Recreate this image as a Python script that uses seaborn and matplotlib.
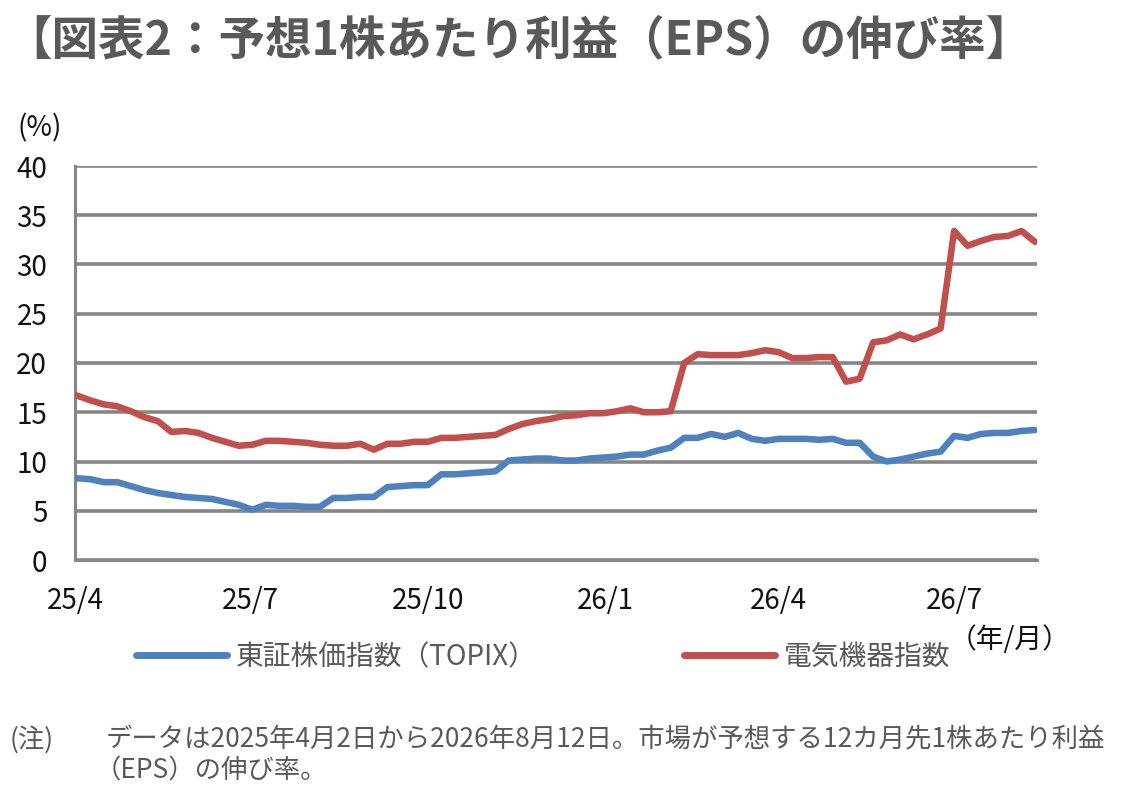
import numpy as np
import pandas as pd
import matplotlib
matplotlib.use("Agg")
import matplotlib.pyplot as plt
import seaborn as sns

# ---- data (weekly, 2025-04-02 .. 2026-08-12) ----
start_date = "2025-04-02"
n_weeks = 72
topix = [8.3, 8.2, 7.9, 7.9, 7.5, 7.1, 6.8, 6.6, 6.4, 6.3,
         6.2, 5.9, 5.6, 5.1, 5.6, 5.5, 5.5, 5.4, 5.4, 6.3,
         6.3, 6.4, 6.4, 7.4, 7.5, 7.6, 7.6, 8.7, 8.7, 8.8,
         8.9, 9.0, 10.1, 10.2, 10.3, 10.3, 10.1, 10.1, 10.3, 10.4,
         10.5, 10.7, 10.7, 11.1, 11.4, 12.4, 12.4, 12.8, 12.5, 12.9,
         12.3, 12.1, 12.3, 12.3, 12.3, 12.2, 12.3, 11.9, 11.9, 10.5,
         10.0, 10.2, 10.5, 10.8, 11.0, 12.6, 12.4, 12.8, 12.9, 12.9,
         13.1, 13.2]
electric = [16.7, 16.2, 15.8, 15.6, 15.1, 14.5, 14.1, 13.0, 13.1, 12.9,
            12.4, 12.0, 11.6, 11.7, 12.1, 12.1, 12.0, 11.9, 11.7, 11.6,
            11.6, 11.8, 11.2, 11.8, 11.8, 12.0, 12.0, 12.4, 12.4, 12.5,
            12.6, 12.7, 13.3, 13.8, 14.1, 14.3, 14.6, 14.7, 14.9, 14.9,
            15.1, 15.4, 15.0, 15.0, 15.1, 20.0, 20.9, 20.8, 20.8, 20.8,
            21.0, 21.3, 21.1, 20.5, 20.5, 20.6, 20.6, 18.1, 18.4, 22.1,
            22.3, 22.9, 22.4, 22.9, 23.5, 33.4, 31.9, 32.4, 32.8, 32.9,
            33.4, 32.3]
series_names = ["東証株価指数（TOPIX）", "電気機器指数"]
series_colors = ["#4F81BD", "#C0504D"]
tick_dates = ["2025-04-01", "2025-07-01", "2025-10-01", "2026-01-01", "2026-04-01", "2026-07-01"]
tick_labels = ["25/4", "25/7", "25/10", "26/1", "26/4", "26/7"]
y_ticks = [0, 5, 10, 15, 20, 25, 30, 35, 40]

title = "【図表2：予想1株あたり利益（EPS）の伸び率】"
note_head = "(注)"
note_line1 = "データは2025年4月2日から2026年8月12日。市場が予想する12カ月先1株あたり利益"
note_line2 = "（EPS）の伸び率。"

dates = pd.date_range(start_date, periods=n_weeks, freq="7D")
df = pd.DataFrame({
    "date": np.concatenate([dates, dates]),
    "value": topix + electric,
    "series": [series_names[0]] * n_weeks + [series_names[1]] * n_weeks,
})

sns.set_style("white")
plt.rcParams["font.family"] = ["Noto Sans CJK JP", "DejaVu Sans"]

W, H = 1129, 786
fig = plt.figure(figsize=(W / 100, H / 100), dpi=100)
ax = fig.add_axes([75 / W, 1 - 560 / H, (1037 - 75) / W, (560 - 166) / H])

gray = "#868686"
sns.lineplot(data=df, x="date", y="value", hue="series",
             palette=dict(zip(series_names, series_colors)),
             linewidth=4.7, ax=ax, legend=True, zorder=3)

ax.set_ylim(0, 40)
ax.set_yticks(y_ticks)
ax.set_xlim(pd.Timestamp("2025-04-01"), pd.Timestamp("2026-08-13"))
ax.set_xticks([pd.Timestamp(d) for d in tick_dates])
ax.set_xticklabels(tick_labels)
ax.set_xlabel("")
ax.set_ylabel("")

ax.grid(axis="y", color=gray, linewidth=2.6, zorder=1)
ax.grid(axis="x", visible=False)
for s in ["top", "right"]:
    ax.spines[s].set_visible(False)
for s in ["left", "bottom"]:
    ax.spines[s].set_color(gray)
    ax.spines[s].set_linewidth(2.2)

ax.tick_params(axis="x", direction="in", length=6, width=2.2, color=gray,
               labelsize=20, pad=19, labelcolor="#111111")
ax.tick_params(axis="y", length=0, labelsize=20, pad=20, labelcolor="#111111")

# legend
handles, labels = ax.get_legend_handles_labels()
ax.legend_.remove()
leg = fig.legend(handles, labels, loc="center", bbox_to_anchor=(543 / W, 1 - 657 / H),
                 ncol=2, frameon=False, fontsize=20, handlelength=3.3,
                 handletextpad=0.3, columnspacing=5.3)
for t in leg.get_texts():
    t.set_color("#595959")
for l in leg.get_lines():
    l.set_linewidth(5)
    l.set_solid_capstyle("round")

fig.text(5 / W, 1 - 40 / H, title, fontsize=33.5, fontweight="bold",
         color="#595959", va="center", ha="left")
fig.text(18 / W, 1 - 128 / H, "(%)", fontsize=20, color="#111111",
         va="center", ha="left")
fig.text(1010 / W, 1 - 640 / H, "（年/月）", fontsize=20, color="#111111",
         va="center", ha="center")
fig.text(10 / W, 1 - 740 / H, note_head, fontsize=19, color="#595959",
         va="center", ha="left")
fig.text(106 / W, 1 - 740 / H, note_line1, fontsize=19, color="#595959",
         va="center", ha="left")
fig.text(95 / W, 1 - 771 / H, note_line2, fontsize=19, color="#595959",
         va="center", ha="left")

fig.savefig("out.png", dpi=100)
